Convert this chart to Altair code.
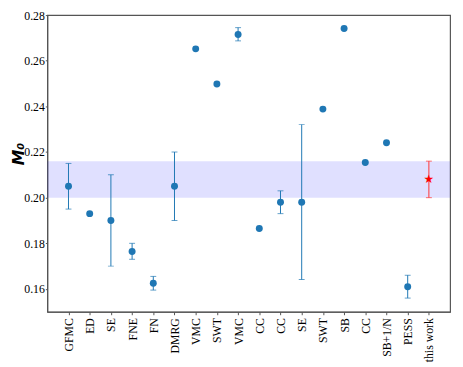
import altair as alt
import pandas as pd

labels = ["GFMC", "ED", "SE", "FNE", "FN", "DMRG", "VMC", "SWT", "VMC", "CC",
          "CC", "SE", "SWT", "SB", "CC", "SB+1/N", "PESS", "this work"]
values = [0.205, 0.193, 0.190, 0.1764, 0.1625, 0.205, 0.2652, 0.2498, 0.2715, 0.1865,
          0.198, 0.198, 0.2388, 0.2741, 0.2154, 0.2241, 0.161, 0.208]
lower = [0.195, None, 0.170, 0.173, 0.1595, 0.190, None, None, 0.2687, None,
         0.193, 0.1641, None, None, None, None, 0.156, 0.200]
upper = [0.215, None, 0.210, 0.180, 0.1655, 0.220, None, None, 0.2745, None,
         0.203, 0.232, None, None, None, None, 0.166, 0.216]
band = [0.200, 0.216]

idx = list(range(1, len(labels) + 1))
df = pd.DataFrame({"i": idx, "label": labels, "v": values, "lo": lower, "hi": upper})
df["this"] = df["label"] == "this work"
err = df.dropna(subset=["lo"])
others = df[~df["this"]]
mine = df[df["this"]]
err_o = err[~err["this"]]
err_m = err[err["this"]]

label_expr = "[" + ",".join("'" + l + "'" for l in labels) + "]"

xscale = alt.Scale(domain=[0, len(labels) + 1], nice=False)
yscale = alt.Scale(domain=[0.15, 0.28], nice=False, zero=False)

xaxis = alt.Axis(values=idx, labelExpr=label_expr + "[datum.value-1]", labelAngle=-90,
                 labelFont="Liberation Serif", labelFontSize=12, labelColor="black",
                 labelOverlap=False, labelBound=False,
                 grid=False, tickSize=3, tickColor="#555", domainColor="#555",
                 title=None, labelAlign="right", labelBaseline="middle", labelPadding=3)
yaxis = alt.Axis(values=[0.16, 0.18, 0.20, 0.22, 0.24, 0.26, 0.28], format=".2f",
                 labelFont="Liberation Serif", labelFontSize=12, labelColor="black",
                 labelOverlap=False,
                 grid=False, tickSize=2, tickColor="#555", domainColor="#555", labelPadding=1,
                 title="M₀", titleFont="DejaVu Sans", titleFontSize=16, titleFontStyle="italic",
                 titleFontWeight="bold", titleColor="black", titleAngle=-90,
                 titleBaseline="middle", titleAlign="center", titleX=-29, titleY=141)

X = alt.X("i:Q", scale=xscale, axis=xaxis)

bdf = pd.DataFrame({"lo": [band[0]], "hi": [band[1]]})
bandc = alt.Chart(bdf).mark_rect(color="#0000ff", opacity=0.12).encode(
    x=alt.value(0), x2=alt.value(410),
    y=alt.Y("lo:Q", scale=yscale, axis=yaxis), y2="hi:Q")

def errbars(d, color):
    rule = alt.Chart(d).mark_rule(color=color, strokeWidth=1).encode(
        x=X, y=alt.Y("lo:Q", scale=yscale, axis=yaxis), y2="hi:Q")
    caplo = alt.Chart(d).mark_tick(color=color, orient="horizontal", size=6, thickness=1).encode(
        x=X, y=alt.Y("lo:Q", scale=yscale, axis=yaxis))
    caphi = alt.Chart(d).mark_tick(color=color, orient="horizontal", size=6, thickness=1).encode(
        x=X, y=alt.Y("hi:Q", scale=yscale, axis=yaxis))
    return rule + caplo + caphi

pts = alt.Chart(others).mark_point(filled=True, shape="circle", size=50, color="#1f77b4", opacity=1).encode(
    x=X, y=alt.Y("v:Q", scale=yscale, axis=yaxis))
star = alt.Chart(mine).mark_text(text="★", fontSize=12, color="red", baseline="middle", align="center",
                                  font="DejaVu Sans").encode(
    x=X, y=alt.Y("v:Q", scale=yscale, axis=yaxis))

chart = alt.layer(bandc, errbars(err_o, "#1f77b4"), errbars(err_m, "#ff3333"), pts, star).properties(
    width=410, height=302,
    autosize=alt.AutoSizeParams(type="none"),
    padding={"left": 40, "top": 4, "right": 5, "bottom": 53},
).configure_view(stroke="#555", strokeWidth=1.2).configure_axisX(labelOverlap=False)

chart.save("out.html", embed_options={"renderer": "svg", "actions": False})
